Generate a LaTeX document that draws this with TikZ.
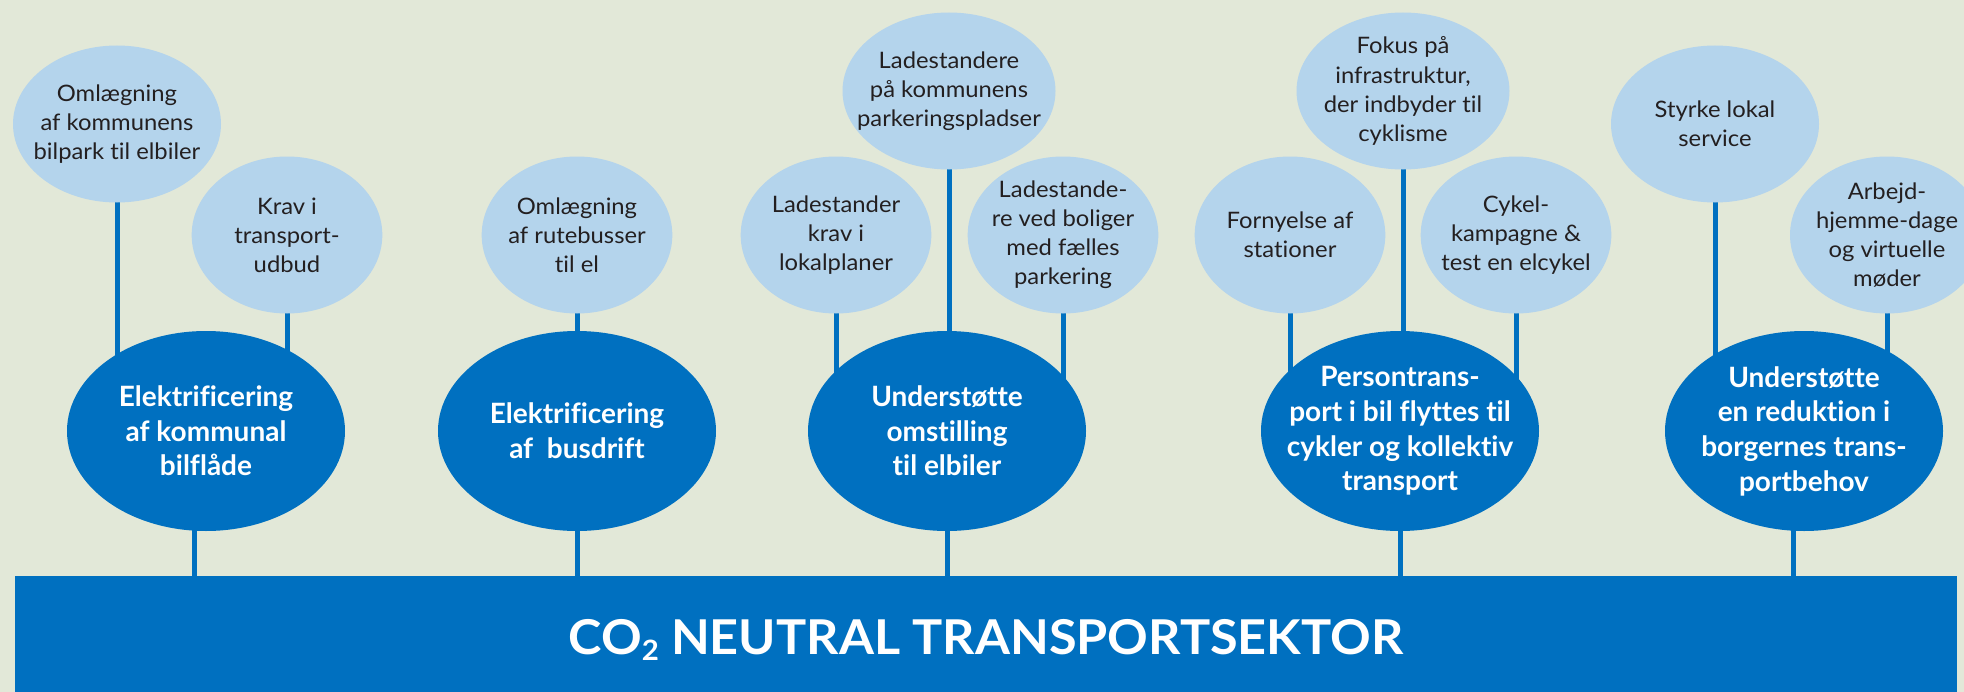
\documentclass[tikz,border=0pt]{standalone}
\usepackage{fontspec}
\setmainfont{Lato}[Ligatures=NoCommon]
\newfontfamily\actionfont{Lato}[FakeStretch=1.05, Ligatures=NoCommon]
\newfontfamily\sectorfont{Lato}[FakeStretch=1.05, Ligatures=NoCommon]
\usetikzlibrary{shapes.geometric,backgrounds}

\definecolor{sagebg}{RGB}{226,232,216}
\definecolor{darkblue}{RGB}{0,112,192}
\definecolor{lightblue}{RGB}{180,212,236}
\definecolor{inktext}{RGB}{35,31,32}

\tikzset{every picture/.style={line width=0.75pt}}
\tikzset{
  subgoal/.style={ellipse, fill=lightblue, inner xsep=-70pt, inner ysep=-45pt,
    minimum width=143pt, minimum height=117.75pt, align=center, text=inktext,
    font=\actionfont\fontsize{17}{21.8}\selectfont},
  goal/.style={ellipse, fill=darkblue, inner xsep=-70pt, inner ysep=-45pt,
    minimum width=208.5pt, minimum height=150pt, align=center, text=white,
    font=\bfseries\fontsize{21}{26}\selectfont},
  sectorbar/.style={rectangle, fill=darkblue, inner sep=0pt, text=white,
    minimum width=1456.5pt, minimum height=96pt,
    font=\sectorfont\bfseries\fontsize{36}{40}\selectfont},
  stem/.style={draw=darkblue, line width=3.75pt},
}

\begin{document}
\begin{tikzpicture}[x=0.75pt,y=0.75pt,yscale=-1,xscale=1]
\useasboundingbox (0,0) rectangle (1964,692);
\begin{scope}[on background layer]
\fill[sagebg] (0,0) rectangle (1964,692);
\end{scope}

%Shape: bar
\node[sectorbar] (bar) at (986,640) {CO\raisebox{-5pt}{\fontsize{21}{21}\selectfont 2} NEUTRAL TRANSPORTSEKTOR};

%Shape: goals
\node[goal] (b1) at (206,431) {Elektrificering\\af kommunal\\bilflåde};
\node[goal] (b2) at (577,431) {Elektrificering\\af~ busdrift};
\node[goal] (b3) at (947,431) {Understøtte\\omstilling\\til elbiler};
\node[goal] (b4) at (1400,431) {Persontrans-\\port i bil flyttes til\\cykler og kollektiv\\transport};
\node[goal] (b5) at (1804,431) {Understøtte\\en reduktion i\\borgernes trans-\\portbehov};

%Shape: actions
\node[subgoal, minimum width=156pt] (o1) at (117,124) {Omlægning\\af kommunens\\bilpark til elbiler};
\node[subgoal] (o2) at (287,235) {Krav i\\transport-\\udbud};
\node[subgoal] (o3) at (577,235) {Omlægning\\af rutebusser\\til el};
\node[subgoal, minimum width=159.75pt] (o4) at (949,91) {Ladestandere\\på kommunens\\parkeringspladser};
\node[subgoal] (o5) at (836,235) {Ladestander\\krav i\\lokalplaner};
\node[subgoal] (o6) at (1063,235) {Ladestande-\\re ved boliger\\med fælles\\parkering};
\node[subgoal] (o7) at (1290,235) {Fornyelse af\\stationer};
\node[subgoal, minimum width=159.75pt] (o8) at (1403,91) {Fokus på\\infrastruktur,\\der indbyder til\\cyklisme};
\node[subgoal] (o9) at (1516,235) {Cykel-\\kampagne \&\\test en elcykel};
\node[subgoal, minimum width=156pt] (o10) at (1715,124) {Styrke lokal\\service};
\node[subgoal, minimum width=145.5pt] (o11) at (1887,235) {Arbejd-\\hjemme-dage\\og virtuelle\\møder};

%Straight Lines
\begin{scope}[on background layer]
\foreach \s/\g in {o1/b1,o2/b1,o3/b2,o4/b3,o5/b3,o6/b3,o7/b4,o8/b4,o9/b4,o10/b5,o11/b5}
  \draw[stem] (\s.center) -- (\s.center |- \g.center);
\draw[stem] ([xshift=-9pt]b1.center) -- ([xshift=-9pt]b1.center |- bar.north);
\foreach \g in {b2,b3,b4}
  \draw[stem] (\g.center) -- (\g.center |- bar.north);
\draw[stem] ([xshift=-8.25pt]b5.center) -- ([xshift=-8.25pt]b5.center |- bar.north);
\end{scope}

\end{tikzpicture}
\end{document}
